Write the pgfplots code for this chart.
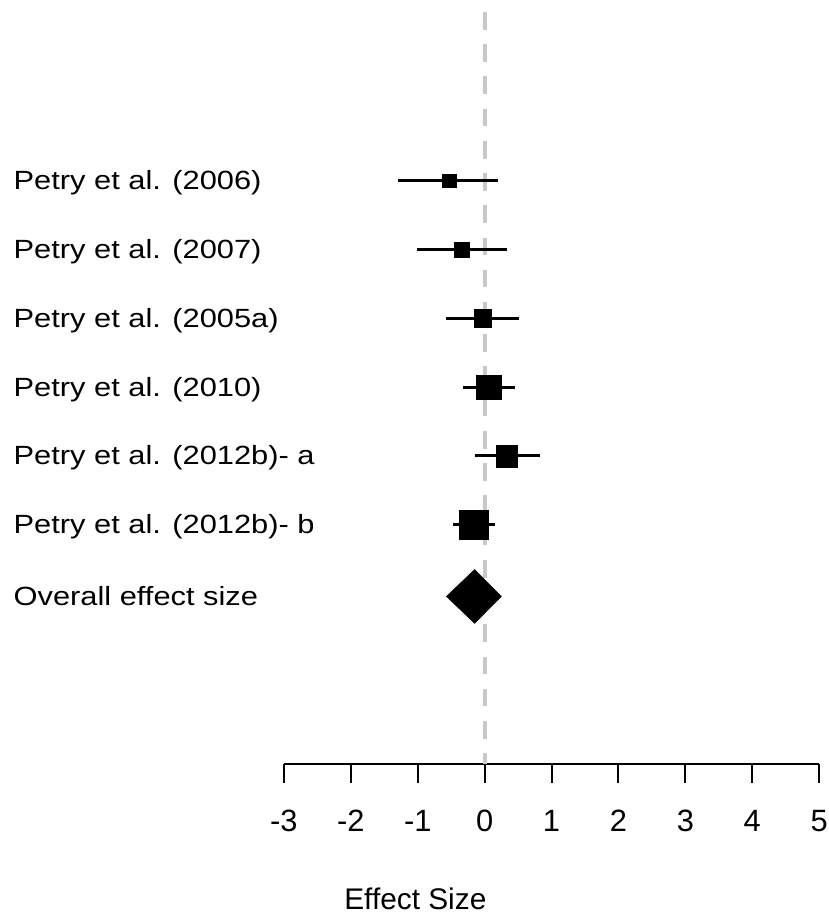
\documentclass[border=0pt]{standalone}
\usepackage{fontspec}
\setmainfont{Liberation Sans}
\newfontfamily\labfont[FakeStretch=1.17]{Liberation Sans}
\usepackage{pgfplots}
\pgfplotsset{compat=1.18}
\usepackage{pgfplotstable}
\definecolor{refgray}{RGB}{200,200,200}

\pgfplotstableread{
row est lo hi s
6 -0.53 -1.29 0.20 13.5
5 -0.34 -1.01 0.34 15.5
4 -0.03 -0.57 0.52 17.5
3 0.06 -0.33 0.46 25
2 0.33 -0.15 0.82 22
1 -0.16 -0.48 0.16 29
}\studies

\begin{document}
\begin{tikzpicture}[x=1bp,y=1bp]
\path (0,0) rectangle (830,914);
\begin{axis}[
  at={(284.5bp,150.5bp)}, anchor=south west,
  scale only axis, width=536.5bp, height=763.5bp,
  xmin=-3, xmax=5, ymin=-2.471, ymax=8.594,
  clip=false,
  axis x line*=bottom, axis y line*=left,
  y axis line style={draw=none},
  x axis line style={line width=2bp, -, black},
  xtick={-3,-2,-1,0,1,2,3,4,5},
  xticklabels={-3,-2,-1,0,1,2,3,4,5},
  tick align=outside,
  major tick length=19bp,
  xtick style={line width=2bp, black},
  ytick style={draw=none},
  xticklabel style={font=\fontsize{31}{37}\selectfont, anchor=north, inner sep=0pt, yshift=-27bp},
  ytick={-0.04,1,2,3,4,5,6},
  yticklabels={Overall effect size, Petry et al. (2012b)- b, Petry et al. (2012b)- a, Petry et al. (2010), Petry et al. (2005a), Petry et al. (2007), Petry et al. (2006)},
  yticklabel style={font=\labfont\fontsize{26.5}{31}\selectfont, anchor=base west, inner sep=0pt, xshift=-252bp, yshift=-9bp},
  xlabel={Effect Size},
  xlabel style={at={(rel axis cs:0.2456,0)}, anchor=base, yshift=-145.5bp, font=\fontsize{30}{36}\selectfont, inner sep=0pt},
]
% reference line at zero
\addplot[refgray, line width=4bp, dash pattern=on 17.7bp off 14.6bp, dash phase=22.3bp]
  coordinates {(0,8.594) (0,-2.471)};
% confidence intervals
\addplot[only marks, mark=none, error bars/.cd, x dir=both, x explicit, error mark=none,
  error bar style={line width=3bp, draw=black, solid}]
  table[x=est, y=row, x error plus expr=\thisrow{hi}-\thisrow{est}, x error minus expr=\thisrow{est}-\thisrow{lo}] {\studies};
% point estimates
\addplot[only marks, mark=square*, black, scatter,
  scatter/use mapped color={draw=black, fill=black},
  mark options={line width=0.3bp},
  visualization depends on={\thisrow{s}/2 \as \msz},
  scatter/@pre marker code/.append style={/tikz/mark size=\msz}]
  table[x=est, y=row] {\studies};
% overall effect (diamond)
\addplot[fill=black, draw=black, line width=0.5bp]
  coordinates {(-0.57,-0.04) (-0.15,0.351) (0.25,-0.04) (-0.15,-0.431)} -- cycle;
\end{axis}
\end{tikzpicture}
\end{document}
